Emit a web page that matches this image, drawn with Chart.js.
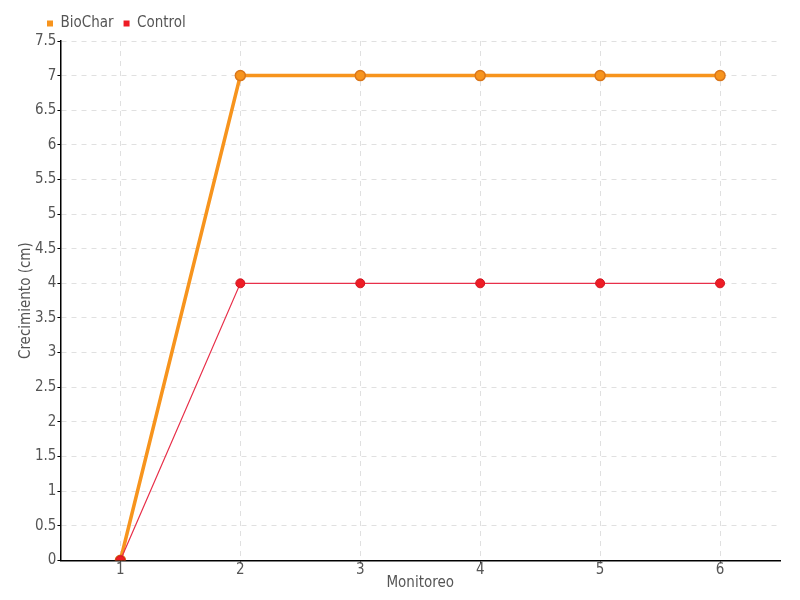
<!DOCTYPE html>
<html lang="es">
<head>
  <meta charset="UTF-8">
  <title>Crecimiento</title>
  <script src="https://cdn.jsdelivr.net/npm/chart.js"></script>
  <style>
    html, body { margin: 0; padding: 0; background: #fff; }
    .chart-container { width: 800px; height: 600px; }
  </style>
</head>
<body>
  <div class="chart-container">
    <canvas id="chartCrecimiento"></canvas>
  </div>

  <script>
    const monitoreo = ['1', '2', '3', '4', '5', '6'];
    const biochar = [0, 7, 7, 7, 7, 7];
    const control = [0, 4, 4, 4, 4, 4];

    const fontFamily = '"Liberation Sans Narrow", "DejaVu Sans Condensed", sans-serif';
    const textColor = '#555';

    // legend sits a bit to the right in the original
    const legendShift = {
      id: 'legendShift',
      beforeDraw(chart) { chart.legend.left = 37; }
    };

    const ctx = document.getElementById('chartCrecimiento').getContext('2d');
    new Chart(ctx, {
      type: 'line',
      data: {
        labels: monitoreo,
        datasets: [
          {
            label: 'BioChar',
            data: biochar,
            borderColor: '#f7941d',
            backgroundColor: '#f7941d',
            borderWidth: 3.5,
            pointRadius: 5,
            pointBackgroundColor: '#f7941d',
            pointBorderColor: '#d9761a',
            pointBorderWidth: 1.5,
            tension: 0,
            order: 1
          },
          {
            label: 'Control',
            data: control,
            borderColor: '#e8304a',
            backgroundColor: '#ee1c25',
            borderWidth: 1.2,
            pointRadius: 4.5,
            pointBackgroundColor: '#ee1c25',
            pointBorderColor: '#d01520',
            pointBorderWidth: 1,
            tension: 0,
            order: 0
          }
        ]
      },
      options: {
        responsive: true,
        maintainAspectRatio: false,
        animation: false,
        layout: { padding: { left: 19, right: 20, top: 6, bottom: 9 } },
        plugins: {
          legend: {
            position: 'top',
            align: 'start',
            labels: {
              boxWidth: 6,
              boxHeight: 6,
              padding: 10,
              color: textColor,
              font: { family: fontFamily, size: 15 },
              sort: (a, b) => a.datasetIndex - b.datasetIndex,
              generateLabels(chart) {
                const items = Chart.defaults.plugins.legend.labels.generateLabels(chart);
                items.forEach(it => { it.lineWidth = 0; });
                return items;
              }
            }
          },
          tooltip: { enabled: false }
        },
        scales: {
          x: {
            offset: true,
            grid: {
              color: '#e0e0e0',
              tickColor: '#000',
              tickLength: 3,
              offset: false
            },
            border: { color: '#000', width: 1.5, dash: [5, 5] },
            ticks: {
              color: textColor,
              font: { family: fontFamily, size: 15, lineHeight: 0.85 },
              padding: 0
            },
            title: {
              display: true,
              text: 'Monitoreo',
              color: textColor,
              font: { family: fontFamily, size: 15, lineHeight: 1 },
              padding: { top: 0, bottom: 0 }
            }
          },
          y: {
            min: 0,
            max: 7.5,
            ticks: {
              stepSize: 0.5,
              callback: v => String(v),
              color: textColor,
              font: { family: fontFamily, size: 15 },
              padding: 1
            },
            grid: {
              color: '#e0e0e0',
              tickColor: '#000',
              tickLength: 3
            },
            border: { color: '#000', width: 1.5, dash: [5, 5] },
            title: {
              display: true,
              text: 'Crecimiento (cm)',
              color: textColor,
              font: { family: fontFamily, size: 15, lineHeight: 1 },
              padding: { top: 0, bottom: 0 }
            }
          }
        }
      },
      plugins: [legendShift]
    });
  </script>
</body>
</html>
